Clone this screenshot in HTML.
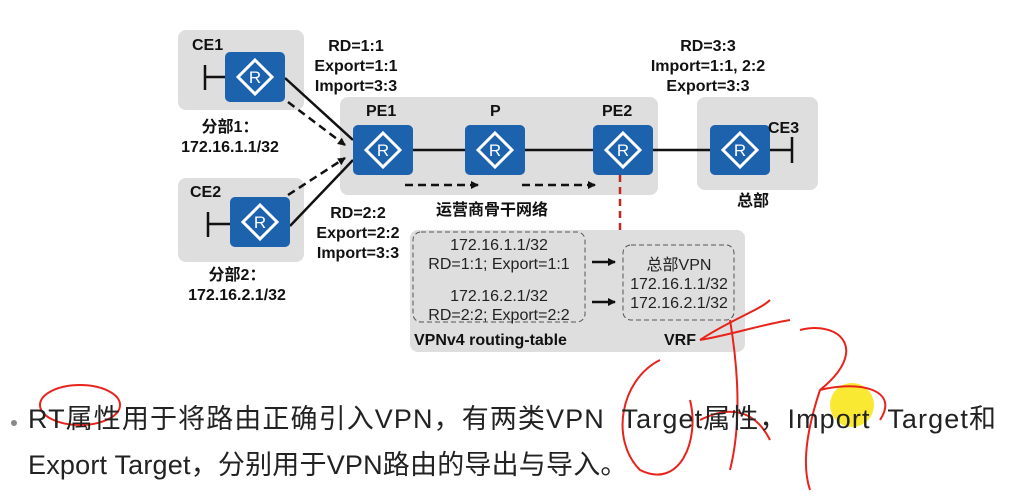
<!DOCTYPE html>
<html><head><meta charset="utf-8"><style>
body{margin:0;width:1023px;height:498px;background:#fff;overflow:hidden;position:relative;font-family:"Liberation Sans","Noto Sans CJK SC",sans-serif}
.t{position:absolute;font-weight:bold;font-size:16px;color:#111;line-height:20px;white-space:nowrap}
.n{position:absolute;font-size:16px;color:#222;line-height:19px;white-space:nowrap}
</style></head><body>
<svg width="1023" height="498" style="position:absolute;left:0;top:0">
<defs>
<marker id="a" markerWidth="8" markerHeight="8" refX="7" refY="4" orient="auto" markerUnits="userSpaceOnUse"><path d="M0,0L8,4L0,8z" fill="#111"/></marker>
<g id="r"><rect x="0" y="0" width="60" height="50" rx="5" fill="#1d62ad"/><path d="M30,8L47,25L30,42L13,25z" fill="none" stroke="#fff" stroke-width="3"/><text x="30" y="31" font-size="17" fill="#fff" text-anchor="middle" font-family="Liberation Sans">R</text></g>
</defs>
<rect x="178" y="30" width="126" height="80" rx="8" fill="#dedede"/>
<rect x="178" y="178" width="126" height="84" rx="8" fill="#dedede"/>
<rect x="340" y="97" width="318" height="98" rx="8" fill="#dedede"/>
<rect x="697" y="97" width="121" height="93" rx="8" fill="#dedede"/>
<rect x="410" y="230" width="335" height="122" rx="8" fill="#dedede"/>
<rect x="413" y="232" width="172" height="90" rx="8" fill="none" stroke="#555" stroke-dasharray="5,3"/>
<rect x="623" y="245" width="111" height="75" rx="8" fill="none" stroke="#555" stroke-dasharray="5,3"/>
<g stroke="#111" stroke-width="2.5" fill="none">
<path d="M205,65V90M205,77H225"/>
<path d="M208,212V237M208,224H230"/>
<path d="M792,137V163M770,150H792"/>
<path d="M285,78L353,140M290,226L353,160M413,150H465M525,150H593M653,150H710"/>
</g>
<g stroke="#111" stroke-width="2.5" fill="none" stroke-dasharray="8,5" marker-end="url(#a)">
<path d="M288,102L345,145"/><path d="M288,195L345,158"/>
<path d="M405,185H478"/><path d="M522,185H595"/>
</g>
<path d="M620,175V230" stroke="#c0281e" stroke-width="2.5" stroke-dasharray="7,5"/>
<g stroke="#111" stroke-width="2.5" marker-end="url(#a)"><path d="M592,262H615"/><path d="M592,302H615"/></g>
<use href="#r" x="225" y="52"/><use href="#r" x="230" y="197"/><use href="#r" x="353" y="125"/><use href="#r" x="465" y="125"/><use href="#r" x="593" y="125"/><use href="#r" x="710" y="125"/>
<circle cx="14" cy="423" r="3" fill="#888"/>
<circle cx="852" cy="405" r="22" fill="#f8e71c" opacity="0.9"/>
<g stroke="#e8231b" stroke-width="2" fill="none">
<ellipse cx="80" cy="405" rx="40" ry="20"/>
<path d="M660,360C620,380 610,440 640,470C680,490 700,440 690,400"/>
<path d="M700,340C730,320 760,310 770,300M730,320C740,380 740,430 730,470M700,420C740,400 760,420 770,440"/>
<path d="M800,330C840,320 870,350 820,390C860,380 900,390 880,420M820,390C810,420 800,460 810,490"/>
<path d="M700,340C730,335 760,325 790,320"/>
</g>
</svg>
<div class="t" style="left:192px;top:36px">CE1</div>
<div class="t" style="left:190px;top:183px">CE2</div>
<div class="t" style="left:768px;top:119px">CE3</div>
<div class="t" style="left:366px;top:102px">PE1</div>
<div class="t" style="left:490px;top:102px">P</div>
<div class="t" style="left:602px;top:102px">PE2</div>
<div class="t" style="left:308px;top:37px;text-align:center;width:96px">RD=1:1<br>Export=1:1<br>Import=3:3</div>
<div class="t" style="left:306px;top:204px;text-align:center;width:104px">RD=2:2<br>Export=2:2<br>Import=3:3</div>
<div class="t" style="left:648px;top:37px;text-align:center;width:120px">RD=3:3<br>Import=1:1, 2:2<br>Export=3:3</div>
<div class="t" style="left:176px;top:118px;text-align:center;width:108px">分部1：<br>172.16.1.1/32</div>
<div class="t" style="left:183px;top:266px;text-align:center;width:108px">分部2：<br>172.16.2.1/32</div>
<div class="t" style="left:436px;top:201px">运营商骨干网络</div>
<div class="t" style="left:737px;top:192px">总部</div>
<div class="n" style="left:413px;top:236px;width:172px;text-align:center">172.16.1.1/32<br>RD=1:1; Export=1:1</div>
<div class="n" style="left:413px;top:287px;width:172px;text-align:center">172.16.2.1/32<br>RD=2:2; Export=2:2</div>
<div class="n" style="left:620px;top:256px;width:118px;text-align:center">总部VPN<br>172.16.1.1/32<br>172.16.2.1/32</div>
<div class="t" style="left:414px;top:331px">VPNv4 routing-table</div>
<div class="t" style="left:664px;top:331px">VRF</div>
<div style="position:absolute;left:28px;top:396px;font-size:27px;color:#222;line-height:46px;white-space:nowrap"><span style="letter-spacing:1.1px">RT属性用于将路由正确引入VPN，有两类VPN&nbsp; Target属性，Import&nbsp; Target和</span><br><span style="letter-spacing:0.2px">Export Target，分别用于VPN路由的导出与导入。</span></div>
</body></html>
